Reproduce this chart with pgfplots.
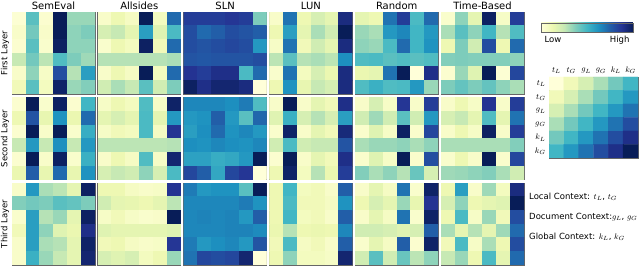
\documentclass[border=0pt]{standalone}
\usepackage{fontspec}
\setmainfont{DejaVu Sans}
\usepackage{pgfplots}
\pgfplotsset{compat=1.18}
\usepackage{pgfplotstable}

\pgfplotsset{colormap={YlGnBu}{rgb255=(255,255,217) rgb255=(237,248,177) rgb255=(199,233,180) rgb255=(127,205,187) rgb255=(65,182,196) rgb255=(29,145,192) rgb255=(34,94,168) rgb255=(37,52,148) rgb255=(8,29,88)}}

% ---------- First layer ----------
\pgfplotstableread[row sep=\\]{c\\
0.02\\0.45\\0.03\\1.00\\0.33\\0.33\\
0.05\\0.40\\0.05\\1.00\\0.35\\0.38\\
0.03\\0.45\\0.04\\0.98\\0.35\\0.35\\
0.25\\0.40\\0.27\\0.47\\0.38\\0.32\\
0.05\\0.35\\0.06\\0.80\\0.28\\0.58\\
0.10\\0.45\\0.08\\0.97\\0.33\\0.37\\}\tSemA
\pgfplotstableread[row sep=\\]{c\\
0.05\\0.12\\0.07\\1.00\\0.08\\0.72\\
0.20\\0.25\\0.15\\0.58\\0.17\\0.48\\
0.04\\0.12\\0.08\\0.98\\0.10\\0.72\\
0.28\\0.28\\0.28\\0.28\\0.28\\0.30\\
0.05\\0.12\\0.07\\1.00\\0.08\\0.72\\
0.22\\0.30\\0.25\\0.45\\0.22\\0.38\\}\tAllA
\pgfplotstableread[row sep=\\]{c\\
0.85\\0.85\\0.85\\0.87\\0.85\\0.38\\
0.80\\0.72\\0.75\\0.80\\0.78\\0.75\\
0.80\\0.78\\0.80\\0.82\\0.80\\0.60\\
0.78\\0.77\\0.78\\0.78\\0.78\\0.80\\
0.88\\0.85\\0.90\\0.90\\0.48\\0.72\\
0.98\\0.90\\0.95\\0.95\\0.92\\0.00\\}\tSlnA
\pgfplotstableread[row sep=\\]{c\\
0.05\\0.70\\0.12\\0.20\\0.15\\0.92\\
0.12\\0.58\\0.15\\0.30\\0.22\\1.00\\
0.06\\0.70\\0.10\\0.22\\0.15\\0.92\\
0.27\\0.45\\0.28\\0.30\\0.27\\0.63\\
0.04\\0.70\\0.08\\0.20\\0.13\\0.92\\
0.12\\0.62\\0.14\\0.25\\0.20\\0.92\\}\tLunA
\pgfplotstableread[row sep=\\]{c\\
0.15\\0.12\\0.70\\0.85\\0.48\\0.72\\
0.33\\0.30\\0.60\\0.65\\0.50\\0.60\\
0.35\\0.33\\0.48\\0.72\\0.50\\0.62\\
0.47\\0.48\\0.45\\0.47\\0.45\\0.47\\
0.13\\0.15\\0.70\\1.00\\0.00\\0.90\\
0.47\\0.52\\0.47\\0.48\\0.60\\0.33\\}\tRndA
\pgfplotstableread[row sep=\\]{c\\
0.04\\0.35\\0.15\\0.98\\0.06\\0.85\\
0.30\\0.45\\0.35\\0.50\\0.28\\0.47\\
0.12\\0.38\\0.22\\0.80\\0.12\\0.72\\
0.37\\0.38\\0.37\\0.37\\0.37\\0.35\\
0.03\\0.33\\0.17\\1.00\\0.02\\0.82\\
0.38\\0.43\\0.38\\0.43\\0.35\\0.30\\}\tTimA
% ---------- Second layer ----------
\pgfplotstableread[row sep=\\]{c\\
0.03\\1.00\\0.04\\0.98\\0.03\\0.50\\
0.12\\0.78\\0.14\\0.62\\0.13\\0.72\\
0.03\\1.00\\0.05\\1.00\\0.04\\0.53\\
0.25\\0.60\\0.25\\0.63\\0.25\\0.60\\
0.03\\1.00\\0.05\\0.98\\0.04\\0.52\\
0.13\\0.75\\0.14\\0.72\\0.14\\0.62\\}\tSemB
\pgfplotstableread[row sep=\\]{c\\
0.06\\0.12\\0.08\\0.47\\0.06\\0.97\\
0.15\\0.20\\0.15\\0.48\\0.15\\0.60\\
0.06\\0.10\\0.08\\0.48\\0.07\\0.88\\
0.27\\0.27\\0.27\\0.27\\0.27\\0.28\\
0.05\\0.12\\0.07\\0.47\\0.06\\0.95\\
0.20\\0.25\\0.22\\0.35\\0.20\\0.48\\}\tAllB
\pgfplotstableread[row sep=\\]{c\\
0.65\\0.65\\0.65\\0.63\\0.68\\0.47\\
0.60\\0.62\\0.75\\0.60\\0.45\\0.73\\
0.58\\0.63\\0.72\\0.62\\0.65\\0.60\\
0.63\\0.62\\0.65\\0.63\\0.62\\0.65\\
0.57\\0.57\\0.53\\0.55\\0.60\\1.00\\
0.82\\0.75\\0.55\\0.82\\0.87\\0.00\\}\tSlnB
\pgfplotstableread[row sep=\\]{c\\
0.05\\1.00\\0.05\\0.15\\0.10\\0.90\\
0.17\\0.52\\0.20\\0.28\\0.20\\0.58\\
0.04\\0.97\\0.05\\0.15\\0.10\\0.93\\
0.22\\0.48\\0.22\\0.25\\0.25\\0.78\\
0.03\\1.00\\0.05\\0.15\\0.10\\0.90\\
0.12\\0.97\\0.08\\0.28\\0.13\\0.85\\}\tLunB
\pgfplotstableread[row sep=\\]{c\\
0.05\\0.20\\0.06\\0.87\\0.05\\0.85\\
0.22\\0.32\\0.22\\0.45\\0.22\\0.60\\
0.04\\0.17\\0.06\\0.98\\0.04\\0.82\\
0.30\\0.33\\0.33\\0.35\\0.30\\0.35\\
0.04\\0.17\\0.06\\1.00\\0.04\\0.80\\
0.37\\0.30\\0.35\\0.28\\0.42\\0.20\\}\tRndB
\pgfplotstableread[row sep=\\]{c\\
0.05\\0.12\\0.06\\0.88\\0.05\\0.85\\
0.20\\0.25\\0.15\\0.47\\0.15\\0.70\\
0.05\\0.12\\0.06\\0.98\\0.05\\0.85\\
0.30\\0.30\\0.30\\0.30\\0.30\\0.37\\
0.04\\0.12\\0.05\\1.00\\0.04\\0.82\\
0.32\\0.33\\0.35\\0.37\\0.30\\0.22\\}\tTimB
% ---------- Third layer ----------
\pgfplotstableread[row sep=\\]{c\\
0.05\\0.60\\0.30\\0.27\\0.15\\0.98\\
0.37\\0.40\\0.38\\0.45\\0.43\\0.38\\
0.04\\0.58\\0.28\\0.33\\0.15\\0.98\\
0.10\\0.58\\0.35\\0.17\\0.13\\0.90\\
0.05\\0.58\\0.30\\0.28\\0.15\\0.97\\
0.05\\0.52\\0.33\\0.25\\0.15\\0.95\\}\tSemC
\pgfplotstableread[row sep=\\]{c\\
0.12\\0.12\\0.07\\0.05\\0.06\\0.88\\
0.22\\0.15\\0.14\\0.12\\0.15\\0.27\\
0.06\\0.10\\0.06\\0.04\\0.05\\1.00\\
0.17\\0.15\\0.15\\0.15\\0.15\\0.17\\
0.10\\0.12\\0.07\\0.05\\0.06\\0.87\\
0.20\\0.17\\0.20\\0.08\\0.12\\0.33\\}\tAllC
\pgfplotstableread[row sep=\\]{c\\
0.68\\0.60\\0.62\\0.62\\0.45\\1.00\\
0.65\\0.65\\0.65\\0.65\\0.68\\0.62\\
0.65\\0.66\\0.65\\0.66\\0.60\\0.75\\
0.65\\0.65\\0.65\\0.66\\0.66\\0.64\\
0.68\\0.60\\0.63\\0.65\\0.60\\0.78\\
0.70\\0.82\\0.80\\0.82\\0.95\\0.00\\}\tSlnC
\pgfplotstableread[row sep=\\]{c\\
0.12\\0.50\\0.08\\0.10\\0.05\\0.75\\
0.12\\0.48\\0.10\\0.10\\0.07\\0.62\\
0.12\\0.50\\0.08\\0.10\\0.05\\0.75\\
0.13\\0.28\\0.12\\0.13\\0.12\\0.65\\
0.10\\0.48\\0.07\\0.10\\0.05\\0.75\\
0.12\\0.35\\0.08\\0.08\\0.06\\0.95\\}\tLunC
\pgfplotstableread[row sep=\\]{c\\
0.05\\0.15\\0.07\\0.70\\0.04\\0.97\\
0.12\\0.20\\0.15\\0.33\\0.14\\0.88\\
0.05\\0.15\\0.07\\0.70\\0.04\\0.97\\
0.22\\0.22\\0.20\\0.17\\0.20\\0.75\\
0.04\\0.15\\0.07\\0.75\\0.03\\0.97\\
0.22\\0.45\\0.22\\0.42\\0.27\\0.35\\}\tRndC
\pgfplotstableread[row sep=\\]{c\\
0.12\\0.58\\0.05\\0.32\\0.08\\0.92\\
0.20\\0.35\\0.12\\0.15\\0.17\\1.00\\
0.12\\0.48\\0.06\\0.33\\0.10\\0.80\\
0.30\\0.15\\0.28\\0.15\\0.32\\0.72\\
0.10\\0.48\\0.06\\0.30\\0.12\\0.80\\
0.25\\0.33\\0.12\\0.48\\0.15\\0.72\\}\tTimC
% ---------- Legend matrix ----------
\pgfplotstableread[row sep=\\]{c\\
0.00\\0.10\\0.20\\0.30\\0.40\\0.50\\
0.10\\0.20\\0.30\\0.40\\0.50\\0.60\\
0.20\\0.30\\0.40\\0.50\\0.60\\0.70\\
0.30\\0.40\\0.50\\0.60\\0.70\\0.80\\
0.40\\0.50\\0.60\\0.70\\0.80\\0.90\\
0.50\\0.60\\0.70\\0.80\\0.90\\1.00\\}\tLeg

\pgfplotsset{hm/.style={scale only axis, width=83pt, height=82pt, anchor=north west,
  xmin=-0.5, xmax=5.5, ymin=-0.5, ymax=5.5, y dir=reverse,
  xtick=\empty, ytick=\empty, colormap name=YlGnBu,
  point meta min=0, point meta max=1,
  axis line style={draw=black!60, line width=0.8pt}}}

% 6x6 matrix, read row by row: row = floor((i+0.5)/6), column = i - 6*row
\newcommand{\hmplot}[1]{\addplot[matrix plot*, mesh/cols=6, mesh/rows=6, point meta=explicit]
  table[x index=0, y index=0,
        x expr={\coordindex-6*floor((\coordindex+0.5)/6)},
        y expr={floor((\coordindex+0.5)/6)}, meta=c] {#1};}
\newcommand{\hm}[3]{\begin{axis}[hm, at={(#1pt,-#2pt)}]\hmplot{#3}\end{axis}}

\begin{document}
\begin{tikzpicture}
\useasboundingbox (0,0) rectangle (640pt,-267pt);
% row 1
\hm{12}{12}{\tSemA}
\hm{97.8}{12}{\tAllA}
\hm{183.6}{12}{\tSlnA}
\hm{269.4}{12}{\tLunA}
\hm{355.2}{12}{\tRndA}
\hm{441}{12}{\tTimA}
% row 2
\hm{12}{97.5}{\tSemB}
\hm{97.8}{97.5}{\tAllB}
\hm{183.6}{97.5}{\tSlnB}
\hm{269.4}{97.5}{\tLunB}
\hm{355.2}{97.5}{\tRndB}
\hm{441}{97.5}{\tTimB}
% row 3
\hm{12}{183}{\tSemC}
\hm{97.8}{183}{\tAllC}
\hm{183.6}{183}{\tSlnC}
\hm{269.4}{183}{\tLunC}
\hm{355.2}{183}{\tRndC}
\hm{441}{183}{\tTimC}
% legend matrix with colorbar
\begin{axis}[hm, width=89pt, height=81pt, at={(549pt,-77pt)},
  xtick={0,...,5}, ytick={0,...,5},
  xticklabels={$t_L$,$t_G$,$g_L$,$g_G$,$k_L$,$k_G$},
  yticklabels={$t_L$,$t_G$,$g_L$,$g_G$,$k_L$,$k_G$},
  xticklabel pos=upper, major tick length=0pt,
  tick label style={font=\fontsize{8}{9}\selectfont},
  colorbar horizontal,
  colorbar style={at={(-0.09,1.667)}, anchor=north west, scale only axis,
    width=92pt, height=9pt, xtick=\empty,
    axis line style={draw=black!60, line width=0.6pt}}]
\hmplot{\tLeg}
\end{axis}
% titles
\begin{scope}[every node/.style={font=\fontsize{10}{12}\selectfont, anchor=base}]
\node at (53.5pt,-10pt) {SemEval};
\node at (139.3pt,-10pt) {Allsides};
\node at (225.1pt,-10pt) {SLN};
\node at (310.9pt,-10pt) {LUN};
\node at (396.7pt,-10pt) {Random};
\node at (482.5pt,-10pt) {Time-Based};
\end{scope}
\begin{scope}[every node/.style={font=\fontsize{8.5}{10}\selectfont, rotate=90}]
\node at (5pt,-53pt) {First Layer};
\node at (5pt,-138.5pt) {Second Layer};
\node at (5pt,-224pt) {Third Layer};
\end{scope}
\node[font=\fontsize{8.5}{10}\selectfont, anchor=base west] at (541pt,-43pt) {Low};
\node[font=\fontsize{8.5}{10}\selectfont, anchor=base east] at (633pt,-43pt) {High};
\begin{scope}[every node/.style={font=\fontsize{8.5}{10}\selectfont, anchor=west, inner sep=0pt}]
\node at (529pt,-197pt) {Local Context: $t_L$, $t_G$};
\node at (529pt,-217pt) {Document Context:$g_L$, $g_G$};
\node at (529pt,-237pt) {Global Context: $k_L$, $k_G$};
\end{scope}
\end{tikzpicture}
\end{document}
